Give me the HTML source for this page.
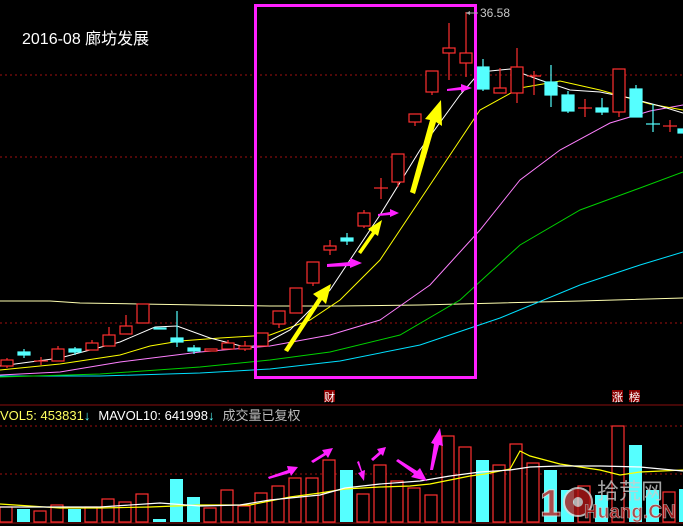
<!DOCTYPE html><html><head><meta charset="utf-8"><style>html,body{margin:0;padding:0;background:#000;overflow:hidden}svg{display:block}text{font-family:"Liberation Sans","Noto Sans CJK SC",sans-serif}</style></head><body>
<svg width="683" height="526" viewBox="0 0 683 526" xmlns="http://www.w3.org/2000/svg">
<rect width="683" height="526" fill="#000"/>
<g stroke="#a01010" stroke-dasharray="2,3" stroke-width="1">
<line x1="0" y1="75" x2="683" y2="75"/><line x1="0" y1="157" x2="683" y2="157"/><line x1="0" y1="323" x2="683" y2="323"/>
<line x1="0" y1="426" x2="683" y2="426"/><line x1="0" y1="474" x2="683" y2="474"/></g>
<line x1="0" y1="405" x2="683" y2="405" stroke="#8a0e0e"/>
<line x1="0" y1="523" x2="683" y2="523" stroke="#8a0e0e"/>
<g fill="none" stroke-width="1">
<polyline stroke="#ffffb0" points="0,301 50,301 80,303 140,304 200,305 270,306 340,306 420,305 500,303 580,301 683,298"/>
<polyline stroke="#00e0ff" points="0,376 100,376 200,373 270,369 340,361 420,345 500,318 580,285 640,265 683,252"/>
<polyline stroke="#00d000" points="0,377 100,374 200,367 270,360 330,352 400,335 460,300 520,245 580,210 640,188 683,172"/>
<polyline stroke="#ff80ff" points="0,375 60,372 120,362 200,352 270,346 330,335 380,320 430,285 480,230 520,180 560,150 610,123 650,111 683,105"/>
<polyline stroke="#ffff00" points="0,370 60,364 120,355 150,346 180,341 220,338 270,335 310,320 340,300 380,260 420,200 460,140 480,110 520,88 560,81 600,90 650,104 683,110"/>
<polyline stroke="#ffffff" points="0,366 60,358 120,342 155,327 177,326 210,338 245,347 262,345 290,330 330,290 380,215 420,150 460,95 480,72 510,69 540,80 570,90 600,92 630,98 660,106 683,113"/>
</g>
<g stroke-width="1.2">
<g stroke="#ff3030" fill="#000">
<line x1="7" y1="358" x2="7" y2="368"/><rect x="1" y="360" width="12" height="6"/>
<line x1="34" y1="361" x2="48" y2="361"/><line x1="41" y1="357" x2="41" y2="365"/>
<line x1="58" y1="346" x2="58" y2="361"/><rect x="52" y="349" width="12" height="12"/>
<line x1="92" y1="340" x2="92" y2="350"/><rect x="86" y="343" width="12" height="7"/>
<line x1="109" y1="327" x2="109" y2="346"/><rect x="103" y="335" width="12" height="11"/>
<line x1="126" y1="315" x2="126" y2="334"/><rect x="120" y="326" width="12" height="8"/>
<rect x="137" y="304" width="12" height="19"/>
<line x1="205" y1="350.5" x2="217" y2="350.5"/><rect x="205" y="349" width="12" height="2"/>
<line x1="228" y1="340" x2="228" y2="349"/><rect x="222" y="343" width="12" height="6"/>
<line x1="245" y1="341" x2="245" y2="351"/><rect x="239" y="346" width="12" height="3"/>
<rect x="256" y="333" width="12" height="13"/>
<line x1="279" y1="311" x2="279" y2="328"/><rect x="273" y="311" width="12" height="13"/>
<rect x="290" y="288" width="12" height="25"/>
<line x1="313" y1="262" x2="313" y2="286"/><rect x="307" y="262" width="12" height="21"/>
<line x1="330" y1="240" x2="330" y2="255"/><rect x="324" y="246" width="12" height="4"/>
<line x1="364" y1="210" x2="364" y2="228"/><rect x="358" y="213" width="12" height="13"/>
<line x1="374" y1="188" x2="388" y2="188"/><line x1="381" y1="178" x2="381" y2="199"/>
<line x1="398" y1="154" x2="398" y2="187"/><rect x="392" y="154" width="12" height="28"/>
<line x1="415" y1="114" x2="415" y2="126"/><rect x="409" y="114" width="12" height="8"/>
<line x1="432" y1="71" x2="432" y2="95"/><rect x="426" y="71" width="12" height="21"/>
<line x1="449" y1="23" x2="449" y2="80"/><rect x="443" y="48" width="12" height="5"/>
<line x1="466" y1="12" x2="466" y2="77"/><rect x="460" y="53" width="12" height="10"/>
<line x1="500" y1="68" x2="500" y2="93"/><rect x="494" y="88" width="12" height="5"/>
<line x1="517" y1="48" x2="517" y2="103"/><rect x="511" y="67" width="12" height="26"/>
<line x1="527" y1="76" x2="541" y2="76"/><line x1="534" y1="71" x2="534" y2="95"/>
<line x1="578" y1="108" x2="592" y2="108"/><line x1="585" y1="99" x2="585" y2="117"/>
<line x1="619" y1="69" x2="619" y2="117"/><rect x="613" y="69" width="12" height="43"/>
<line x1="663" y1="126" x2="677" y2="126"/><line x1="670" y1="120" x2="670" y2="132"/>
</g>
<g stroke="#55ffff" fill="#55ffff">
<rect x="18" y="352" width="12" height="3"/><line x1="24" y1="349" x2="24" y2="358"/>
<rect x="69" y="349" width="12" height="3"/><line x1="75" y1="347" x2="75" y2="355"/>
<rect x="154" y="328" width="12" height="1"/>
<line x1="177" y1="311" x2="177" y2="347"/><rect x="171" y="338" width="12" height="4"/>
<line x1="194" y1="345" x2="194" y2="354"/><rect x="188" y="348" width="12" height="3"/>
<line x1="347" y1="233" x2="347" y2="245"/><rect x="341" y="238" width="12" height="3"/>
<line x1="483" y1="59" x2="483" y2="91"/><rect x="477" y="67" width="12" height="22"/>
<line x1="551" y1="65" x2="551" y2="107"/><rect x="545" y="82" width="12" height="13"/>
<rect x="562" y="95" width="12" height="16"/><line x1="568" y1="91" x2="568" y2="113"/>
<line x1="602" y1="98" x2="602" y2="115"/><rect x="596" y="108" width="12" height="4"/>
<line x1="636" y1="85" x2="636" y2="117"/><rect x="630" y="89" width="12" height="28"/>
<line x1="646" y1="124" x2="660" y2="124"/><line x1="653" y1="104" x2="653" y2="132"/>
<rect x="678" y="129" width="8" height="4"/>
</g></g>
<rect x="255.5" y="5.5" width="220" height="372" fill="none" stroke="#ff20ff" stroke-width="3"/>
<line x1="466" y1="13" x2="478" y2="13" stroke="#aaa"/><polygon points="466,13 470,11 470,15" fill="#aaa"/>
<text x="480" y="17" fill="#c8c8c8" font-size="12">36.58</text>
<text x="22" y="44" fill="#fff" font-size="16">2016-08 廊坊发展</text>
<rect x="324" y="390" width="11" height="12" fill="#800"/><text x="324" y="401" fill="#fff" font-size="11">财</text>
<rect x="612" y="390" width="11" height="12" fill="#800"/><text x="612" y="401" fill="#fff" font-size="11">涨</text>
<rect x="629" y="390" width="11" height="12" fill="#800"/><text x="629" y="401" fill="#fff" font-size="11">榜</text>
<text x="0" y="420" font-size="13"><tspan fill="#ffff60">VOL5: 453831</tspan><tspan fill="#55ffff">↓</tspan><tspan fill="#fff" dx="8">MAVOL10: 641998</tspan><tspan fill="#55ffff">↓</tspan><tspan fill="#bbb" dx="8">成交量已复权</tspan></text>
<g stroke="#ff3030" fill="#000" stroke-width="1.2">
<rect x="0" y="507" width="12" height="15"/><rect x="34" y="511" width="12" height="11"/><rect x="51" y="505" width="12" height="17"/>
<rect x="85" y="507" width="12" height="15"/><rect x="102" y="499" width="12" height="23"/><rect x="119" y="502" width="12" height="20"/>
<rect x="136" y="494" width="12" height="28"/><rect x="204" y="508" width="12" height="14"/><rect x="221" y="490" width="12" height="32"/>
<rect x="238" y="506" width="12" height="16"/><rect x="255" y="493" width="12" height="29"/><rect x="272" y="486" width="12" height="36"/>
<rect x="289" y="478" width="12" height="44"/><rect x="306" y="478" width="12" height="44"/><rect x="323" y="460" width="12" height="62"/>
<rect x="357" y="494" width="12" height="28"/><rect x="374" y="465" width="12" height="57"/><rect x="391" y="481" width="12" height="41"/>
<rect x="408" y="488" width="12" height="34"/><rect x="425" y="495" width="12" height="27"/><rect x="442" y="436" width="12" height="86"/>
<rect x="459" y="447" width="12" height="75"/><rect x="493" y="465" width="12" height="57"/><rect x="510" y="444" width="12" height="78"/>
<rect x="527" y="463" width="12" height="59"/><rect x="578" y="486" width="12" height="36"/><rect x="612" y="426" width="12" height="96"/>
<rect x="663" y="492" width="12" height="30"/>
</g>
<g fill="#55ffff">
<rect x="17" y="509" width="13" height="13"/><rect x="68" y="509" width="13" height="13"/><rect x="153" y="519" width="13" height="3"/>
<rect x="170" y="479" width="13" height="43"/><rect x="187" y="497" width="13" height="25"/><rect x="340" y="470" width="13" height="52"/>
<rect x="476" y="460" width="13" height="62"/><rect x="544" y="470" width="13" height="52"/><rect x="561" y="490" width="13" height="32"/>
<rect x="595" y="495" width="13" height="27"/><rect x="629" y="445" width="13" height="77"/><rect x="646" y="490" width="13" height="32"/>
<rect x="679" y="489" width="6" height="33"/>
</g>
<g fill="none" stroke-width="1.2">
<polyline stroke="#ffff00" points="0,504 30,506 60,508 100,508 150,507 200,505 250,505 290,497 320,493 345,489 380,487 410,486 430,484 440,482 470,476 485,474 510,469 520,451 530,456 560,464 600,470 620,475 640,472 683,470"/>
<polyline stroke="#fff" points="0,507 100,507 160,503 200,506 240,505 270,500 300,497 320,495 345,488 380,484 420,481 450,476 480,472 510,470 530,467 560,466 600,466 640,467 683,471"/>
</g>
<g fill="#ffff00">
<polygon points="284,350 318,298 313,294 331,284 326,304 322,300 288,352"/>
<polygon points="358,252 372,232 368,229 382,220 378,236 375,234 361,254"/>
<polygon points="410,192 430,120 425,119 441,100 442,126 436,122 415,194"/>
</g>
<g fill="#ff20ff">
<polygon points="327,264 350,262 350,258 362,263 350,268 350,266 327,267"/>
<polygon points="378,214 390,212 390,209 399,213 390,217 390,215 378,216"/>
<polygon points="447,89 461,87 461,84 472,88 461,92 461,90 447,91"/>
<polygon points="268,477 288,470 287,466 298,467 291,476 290,473 269,479"/>
<polygon points="311,461 324,453 322,450 333,448 328,458 326,455 313,463"/>
<polygon points="357,462 361,472 358,473 364,481 365,470 362,471 359,461"/>
<polygon points="371,459 379,452 377,449 386,447 383,456 381,454 373,461"/>
<polygon points="396,461 414,474 411,477 427,481 420,468 417,471 398,459"/>
<polygon points="430,470 434,444 431,443 440,428 443,446 439,445 433,470"/>
</g>
<g opacity="0.8">
<text x="540" y="516" fill="#c02020" font-size="38" font-weight="bold" stroke="#ddd" stroke-width="1">1</text>
<circle cx="578" cy="502" r="14" fill="#b01818" stroke="#ddd" stroke-width="2"/>
<circle cx="578" cy="502" r="5" fill="#ddd"/>
<text x="597" y="499" fill="#ccc" font-size="22">拾荒网</text>
<text x="584" y="518" fill="#c02020" font-size="19" font-weight="bold" stroke="#ddd" stroke-width="0.6">Huang.CN</text>
</g>
</svg>
</body></html>
